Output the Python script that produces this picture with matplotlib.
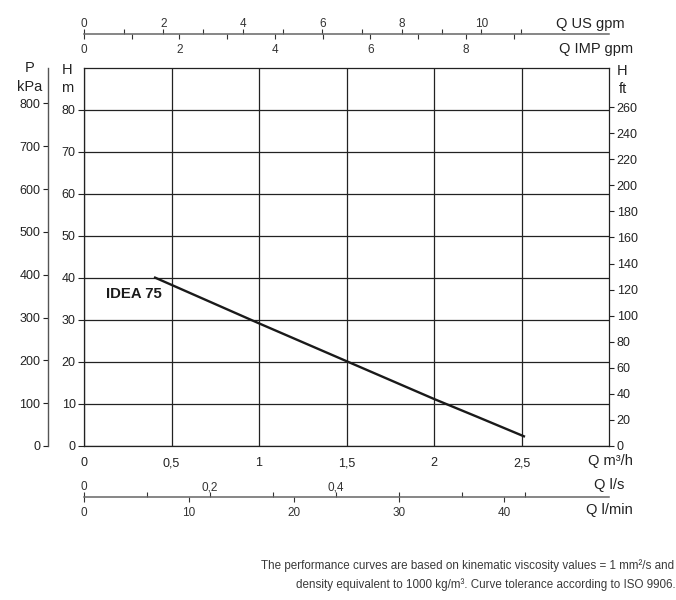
import matplotlib
matplotlib.use("Agg")
import matplotlib.pyplot as plt

# pump curve IDEA 75 (Q in m3/h, H in m)
q_m3h = [0.40, 1.0, 1.5, 2.0, 2.25, 2.52]
h_m = [40.2, 29.2, 20.2, 11.2, 6.9, 2.2]
curve_name = "IDEA 75"

q_ticks = [0, 0.5, 1, 1.5, 2, 2.5]
q_labels = ["0", "0,5", "1", "1,5", "2", "2,5"]
h_ticks = [0, 10, 20, 30, 40, 50, 60, 70, 80]
p_ticks = [0, 100, 200, 300, 400, 500, 600, 700, 800]
ft_ticks = [0, 20, 40, 60, 80, 100, 120, 140, 160, 180, 200, 220, 240, 260]
us_ticks = list(range(0, 12))
us_labels = ["0", "", "2", "", "4", "", "6", "", "8", "", "10", ""]
imp_ticks = list(range(0, 10))
imp_labels = ["0", "", "2", "", "4", "", "6", "", "8", ""]
ls_ticks = [0, 0.1, 0.2, 0.3, 0.4, 0.5, 0.6, 0.7]
ls_labels = ["0", "", "0,2", "", "0,4", "", "", ""]
lmin_ticks = [0, 10, 20, 30, 40]
lmin_labels = ["0", "10", "20", "30", "40"]

footnote = ["The performance curves are based on kinematic viscosity values = 1 mm\u00b2/s and",
            "density equivalent to 1000 kg/m\u00b3. Curve tolerance according to ISO 9906."]

Q_MAX = 3.0
H_MAX = 90
P_MAX = H_MAX * 9.80665
FT_MAX = 290  # the original ft scale is slightly off the true conversion
US_GPM = 0.227125
IMP_GPM = 0.272765

plt.rcParams["font.family"] = ["Liberation Sans", "DejaVu Sans"]
INK = "#222222"

W, H = 676, 600
fig = plt.figure(figsize=(W / 100, H / 100), dpi=100)


def fx(px):
    return px / W


def fy(py):
    return 1 - py / H


left, right, top, bottom = 84, 609, 68, 446
ax = fig.add_axes([fx(left), fy(bottom), fx(right - left), (bottom - top) / H])
ax.plot(q_m3h, h_m, color="#1a1a1a", lw=1.7, solid_capstyle="butt", zorder=3)
ax.set_xlim(0, Q_MAX)
ax.set_ylim(0, H_MAX)
ax.set_xticks(q_ticks)
ax.set_xticklabels(q_labels)
ax.set_yticks(h_ticks)
ax.grid(True, color=INK, lw=0.9)
for s in ax.spines.values():
    s.set_color(INK)
    s.set_linewidth(0.9)
ax.tick_params(axis="x", length=0, pad=8, labelsize=9, colors=INK)
ax.tick_params(axis="y", length=4, pad=2, labelsize=9, colors=INK, width=0.8)
ax.text(0.126, 36.3, curve_name, fontsize=10.7, fontweight="bold",
        ha="left", va="center", color="#1a1a1a")

# H ft on the right
ax_ft = ax.twinx()
ax_ft.set_ylim(0, FT_MAX)
ax_ft.set_yticks(ft_ticks)
for s in ax_ft.spines.values():
    s.set_visible(False)
ax_ft.tick_params(axis="y", length=3.5, pad=2, labelsize=9, colors=INK, width=0.8)

# P kPa on the far left
ax_p = fig.add_axes([fx(48), fy(bottom), 0.0001, (bottom - top) / H])
ax_p.patch.set_visible(False)
for name, s in ax_p.spines.items():
    s.set_visible(name == "left")
ax_p.spines["left"].set_color("#555555")
ax_p.spines["left"].set_linewidth(1.0)
ax_p.set_ylim(0, P_MAX)
ax_p.set_yticks(p_ticks)
ax_p.xaxis.set_visible(False)
ax_p.tick_params(axis="y", length=3.5, pad=2, labelsize=9, colors=INK, width=0.8)


def flow_scale(y_px, upper_max, upper_ticks, upper_labels, lower_max, lower_ticks, lower_labels):
    # two flow units sharing one line: upper ticks/labels above, lower below
    rect = [fx(left), fy(y_px), fx(right - left), 0.0001]
    up = fig.add_axes(rect)
    lo = fig.add_axes(rect)
    for a in (up, lo):
        a.patch.set_visible(False)
        a.yaxis.set_visible(False)
        for s in a.spines.values():
            s.set_visible(False)
    lo.spines["bottom"].set_visible(True)
    lo.spines["bottom"].set_color("#666666")
    lo.spines["bottom"].set_linewidth(1.1)
    up.set_xlim(0, upper_max)
    up.set_xticks(upper_ticks)
    up.set_xticklabels(upper_labels)
    up.xaxis.tick_top()
    up.tick_params(axis="x", direction="out", length=3.5, width=0.8, pad=-1,
                   labelsize=8.5, colors="#333333")
    lo.set_xlim(0, lower_max)
    lo.set_xticks(lower_ticks)
    lo.set_xticklabels(lower_labels)
    lo.tick_params(axis="x", direction="out", length=3.5, width=0.8, pad=3.5,
                   labelsize=8.5, colors="#333333")


flow_scale(34, Q_MAX / US_GPM, us_ticks, us_labels, Q_MAX / IMP_GPM, imp_ticks, imp_labels)
flow_scale(497, Q_MAX / 3.6, ls_ticks, ls_labels, Q_MAX * 1000 / 60, lmin_ticks, lmin_labels)

# axis titles
title_kw = dict(fontsize=10.5, color=INK, va="center")
fig.text(fx(625), fy(24), "Q US gpm", ha="right", **title_kw)
fig.text(fx(633), fy(49), "Q IMP gpm", ha="right", **title_kw)
fig.text(fx(633), fy(461), "Q m\u00b3/h", ha="right", **title_kw)
fig.text(fx(624), fy(485), "Q l/s", ha="right", **title_kw)
fig.text(fx(633), fy(510), "Q l/min", ha="right", **title_kw)
fig.text(fx(30), fy(68), "P", ha="center", **title_kw)
fig.text(fx(30), fy(87), "kPa", ha="center", **title_kw)
fig.text(fx(67), fy(70), "H", ha="center", **title_kw)
fig.text(fx(67), fy(88), "m", ha="center", **title_kw)
fig.text(fx(617), fy(71), "H", ha="left", **title_kw)
fig.text(fx(619), fy(89), "ft", ha="left", **title_kw)

fig.text(fx(674), fy(566), footnote[0], ha="right", va="center", fontsize=8.4,
         color="#3a3a3a")
fig.text(fx(676), fy(585), footnote[1], ha="right", va="center", fontsize=8.4,
         color="#3a3a3a")

fig.savefig("out.png", dpi=100)
